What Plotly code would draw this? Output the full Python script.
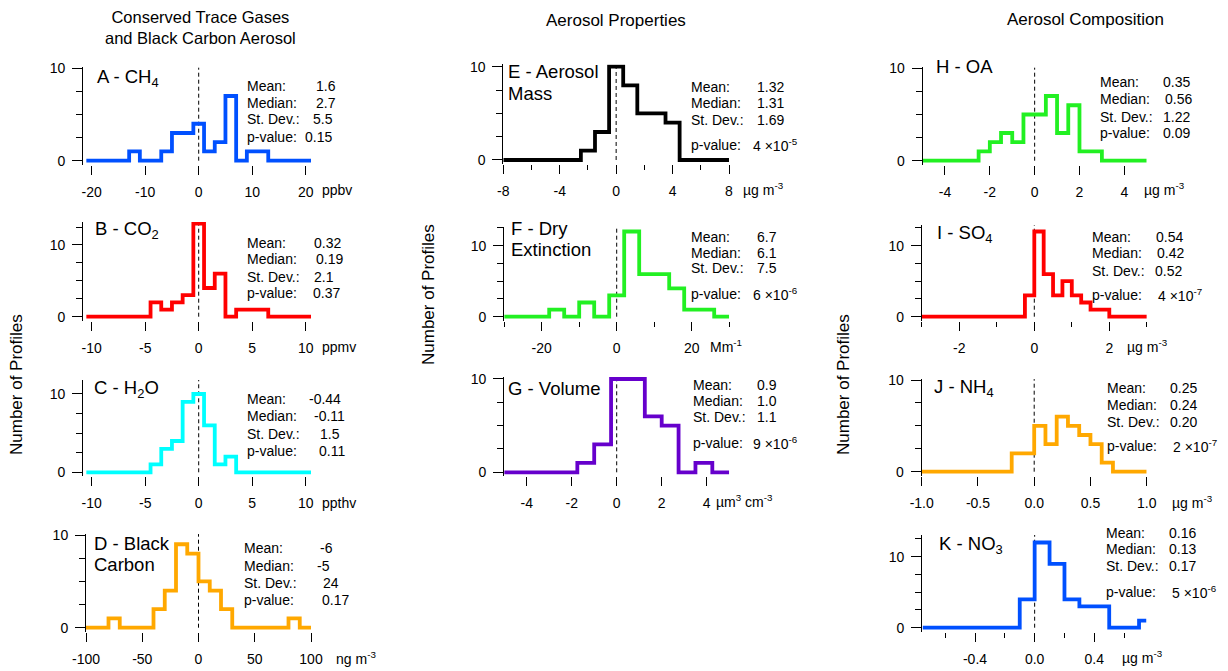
import plotly.graph_objects as go

W, H = 1228, 671
FONT = "Liberation Sans, Arial, sans-serif"

# ---------------- data (bin edges, counts per bin) ----------------
A_edges = [-21, -13, -11, -7, -5, -1, 1, 3, 5, 7, 9, 13, 21]
A_counts = [0, 1, 0, 1, 3, 4, 1, 2, 7, 0, 1, 0]

B_edges = [-10.5, -4.5, -3.5, -2.5, -1.5, -0.5, 0.5, 1.5, 2.5, 3.5, 6.5, 10.5]
B_counts = [0, 2, 1, 2, 3, 13, 4, 6, 0, 1, 0]

C_edges = [-10.5, -4.5, -3.5, -2.5, -1.5, -0.5, 0.5, 1.5, 2.5, 3.5, 10.5]
C_counts = [0, 1, 3, 4, 9, 10, 6, 1, 2, 0]

D_edges = [-100, -80, -70, -40, -30, -20, -10, 0, 10, 20, 30, 80, 90, 100]
D_counts = [0, 1, 0, 2, 4, 9, 8, 5, 4, 2, 0, 1, 0]

E_edges = [-8, -2.5, -1.5, -0.5, 0.5, 1.5, 3.5, 4.5, 8]
E_counts = [0, 1, 3, 10, 8, 5, 4, 0]

F_edges = [-30, -18, -14, -10, -6, -2, 2, 6, 14, 18, 26, 30]
F_counts = [0, 1, 0, 2, 0, 3, 12, 6, 4, 1, 0]

G_edges = [-5, -1.75, -1, -0.25, 1.25, 2, 2.75, 3.5, 4.25, 5]
G_counts = [0, 1, 3, 10, 6, 5, 0, 1, 0]

H_edges = [-5, -2.5, -2, -1.5, -1, -0.5, 0.5, 1, 1.5, 2, 3, 5]
H_counts = [0, 1, 2, 3, 2, 5, 7, 3, 6, 1, 0]

I_edges = [-3, -0.25, 0, 0.25, 0.5, 0.75, 1, 1.25, 1.5, 2, 3]
I_counts = [0, 3, 12, 6, 3, 5, 3, 2, 1, 0]

J_edges = [-1, -0.2, 0, 0.1, 0.2, 0.3, 0.4, 0.5, 0.6, 0.7, 1]
J_counts = [0, 2, 5, 3, 6, 5, 4, 3, 1, 0]

K_edges = [-0.75, -0.1, 0, 0.1, 0.2, 0.3, 0.5, 0.7, 0.75]
K_counts = [0, 4, 12, 9, 4, 3, 0, 1]

# ---------------- tick labels ----------------
A_ticks = [-20, -10, 0, 10, 20]
A_ticktext = ["-20", "-10", "0", "10", "20"]
BC_ticks = [-10, -5, 0, 5, 10]
BC_ticktext = ["-10", "-5", "0", "5", "10"]
D_ticks = [-100, -50, 0, 50, 100]
D_ticktext = ["-100", "-50", "0", "50", "100"]
E_ticks = [-8, -4, 0, 4, 8]
E_ticktext = ["-8", "-4", "0", "4", "8"]
E_minor = [-6, -2, 2, 6]
F_ticks = [-20, 0, 20]
F_ticktext = ["-20", "0", "20"]
F_minor = [-30, -10, 10, 30]
GH_ticks = [-4, -2, 0, 2, 4]
GH_ticktext = ["-4", "-2", "0", "2", "4"]
I_ticks = [-2, 0, 2]
I_ticktext = ["-2", "0", "2"]
I_minor = [-3, -1, 1, 3]
J_ticks = [-1.0, -0.5, 0.0, 0.5, 1.0]
J_ticktext = ["-1.0", "-0.5", "0.0", "0.5", "1.0"]
K_ticks = [-0.4, 0.0, 0.4]
K_ticktext = ["-0.4", "0.0", "0.4"]
K_minor = [-0.6, -0.2, 0.2, 0.6]
Y_ticks = [0, 10]
Y_ticktext = ["0", "10"]

# ---------------- statistics text ----------------
stat_labels = ["Mean:", "Median:", "St. Dev.:", "p-value:"]
A_stats = ["1.6", "2.7", "5.5", "0.15"]
B_stats = ["0.32", "0.19", "2.1", "0.37"]
C_stats = ["-0.44", "-0.11", "1.5", "0.11"]
D_stats = ["-6", "-5", "24", "0.17"]
E_stats = ["1.32", "1.31", "1.69", "4 ×10<sup>-5</sup>"]
F_stats = ["6.7", "6.1", "7.5", "6 ×10<sup>-6</sup>"]
G_stats = ["0.9", "1.0", "1.1", "9 ×10<sup>-6</sup>"]
H_stats = ["0.35", "0.56", "1.22", "0.09"]
I_stats = ["0.54", "0.42", "0.52", "4 ×10<sup>-7</sup>"]
J_stats = ["0.25", "0.24", "0.20", "2 ×10<sup>-7</sup>"]
K_stats = ["0.16", "0.13", "0.17", "5 ×10<sup>-6</sup>"]

BLUE, RED, CYAN, ORANGE = "#0050FF", "#FF0000", "#00FFFF", "#FFA800"
BLACK, GREEN, PURPLE = "#000000", "#22F022", "#6600CC"

panels = [
    dict(e=A_edges, c=A_counts, col=BLUE, xcal=(-20, 91.7, 20, 305.7), xr=(-21.6, 21), ycal=(160.7, 68.3), ytop=10.1,
         tv=A_ticks, tt=A_ticktext, mn=None, title=["A - CH<sub>4</sub>"], tx=96.7, ty=[78.3],
         unit="ppbv", ux=322, uy=190, st=A_stats, lx=246.7, vx=[316, 316, 313.3, 305], sy=[85.5, 102.5, 119.5, 136.5]),
    dict(e=B_edges, c=B_counts, col=RED, xcal=(-10, 91.7, 10, 305.7), xr=(-10.8, 10.5), ycal=(316.7, 245), ytop=13.2,
         tv=BC_ticks, tt=BC_ticktext, mn=None, title=["B - CO<sub>2</sub>"], tx=95, ty=[230],
         unit="ppmv", ux=322, uy=347, st=B_stats, lx=247.3, vx=[314, 316, 314, 313.3], sy=[242.7, 259.3, 276.7, 292.7]),
    dict(e=C_edges, c=C_counts, col=CYAN, xcal=(-10, 91.7, 10, 305.7), xr=(-10.8, 10.5), ycal=(472.3, 394), ytop=11.8,
         tv=BC_ticks, tt=BC_ticktext, mn=None, title=["C - H<sub>2</sub>O"], tx=94.3, ty=[389.3],
         unit="ppthv", ux=322, uy=503, st=C_stats, lx=246.7, vx=[309.3, 314, 320, 319.3], sy=[399.3, 416, 433.5, 450.7]),
    dict(e=D_edges, c=D_counts, col=ORANGE, xcal=(-100, 86, 100, 311), xr=(-100, 100), ycal=(627.7, 535), ytop=10.1,
         tv=D_ticks, tt=D_ticktext, mn=None, title=["D - Black", "Carbon"], tx=94.3, ty=[543.3, 564.3],
         unit="ng m<sup>-3</sup>", ux=336, uy=658, st=D_stats, lx=244, vx=[320, 316.7, 322.7, 321.7], sy=[548.3, 565.7, 583.3, 600]),
    dict(e=E_edges, c=E_counts, col=BLACK, xcal=(-8, 503.3, 8, 729), xr=(-8, 8), ycal=(160, 66.7), ytop=10.25,
         tv=E_ticks, tt=E_ticktext, mn=E_minor, title=["E - Aerosol", "Mass"], tx=508.3, ty=[71.7, 93.3],
         unit="µg m<sup>-3</sup>", ux=743, uy=189, st=E_stats, lx=690.7, vx=[757, 757, 757, 753], sy=[87.3, 103.3, 120, 145]),
    dict(e=F_edges, c=F_counts, col=GREEN, xcal=(-20, 541.7, 20, 691.7), xr=(-30, 30), ycal=(316.7, 245.7), ytop=12.7,
         tv=F_ticks, tt=F_ticktext, mn=F_minor, title=["F - Dry", "Extinction"], tx=510.7, ty=[228.3, 250],
         unit="Mm<sup>-1</sup>", ux=710, uy=346, st=F_stats, lx=690.7, vx=[757, 757, 757, 753], sy=[236.7, 253.3, 268.3, 294]),
    dict(e=G_edges, c=G_counts, col=PURPLE, xcal=(-4, 526.7, 4, 706.7), xr=(-5, 5), ycal=(472.3, 379), ytop=10.25,
         tv=GH_ticks, tt=GH_ticktext, mn=None, title=["G - Volume"], tx=508.3, ty=[388.3],
         unit="µm<sup>3</sup> cm<sup>-3</sup>", ux=716, uy=501, st=G_stats, lx=692.7, vx=[757, 757, 757, 753], sy=[385, 401, 416.7, 443.3]),
    dict(e=H_edges, c=H_counts, col=GREEN, xcal=(-4, 945, 4, 1124.3), xr=(-5, 5), ycal=(160.7, 68.3), ytop=10.1,
         tv=GH_ticks, tt=GH_ticktext, mn=None, title=["H - OA"], tx=936, ty=[66.7],
         unit="µg m<sup>-3</sup>", ux=1144, uy=189, st=H_stats, lx=1100, vx=[1163.3, 1165, 1163.3, 1162.7], sy=[82.3, 99, 116.7, 132.7]),
    dict(e=I_edges, c=I_counts, col=RED, xcal=(-2, 959.3, 2, 1109.3), xr=(-3, 3), ycal=(316.7, 245.7), ytop=12.9,
         tv=I_ticks, tt=I_ticktext, mn=I_minor, title=["I - SO<sub>4</sub>"], tx=936.7, ty=[234],
         unit="µg m<sup>-3</sup>", ux=1126.7, uy=346, st=I_stats, lx=1092.3, vx=[1155.7, 1156.7, 1155, 1157.7], sy=[236.7, 253.3, 270.7, 295]),
    dict(e=J_edges, c=J_counts, col=ORANGE, xcal=(-1, 921.7, 1, 1146.7), xr=(-1, 1), ycal=(471.7, 380), ytop=10.1,
         tv=J_ticks, tt=J_ticktext, mn=None, title=["J - NH<sub>4</sub>"], tx=934, ty=[388.3],
         unit="µg m<sup>-3</sup>", ux=1171.7, uy=502, st=J_stats, lx=1106.7, vx=[1170, 1170, 1170, 1173.3], sy=[388.3, 405, 421.7, 446]),
    dict(e=K_edges, c=K_counts, col=BLUE, xcal=(-0.4, 975, 0.4, 1094.3), xr=(-0.755, 0.75), ycal=(627.7, 556.7), ytop=13.05,
         tv=K_ticks, tt=K_ticktext, mn=K_minor, title=["K - NO<sub>3</sub>"], tx=939, ty=[545],
         unit="µg m<sup>-3</sup>", ux=1121.7, uy=657, st=K_stats, lx=1105.7, vx=[1169.3, 1169.3, 1169.3, 1171.7], sy=[532.7, 549.3, 566, 591.7]),
]


def ann(text, x, y, size=14, xanchor="left", yanchor="middle", angle=0):
    dx = -2 if xanchor == "left" else 0
    return dict(text=text, x=(x + dx) / W, y=1 - y / H, xref="paper", yref="paper", xanchor=xanchor, yanchor=yanchor,
                showarrow=False, textangle=angle, font=dict(family=FONT, size=size, color="black"))


fig = go.Figure()
layout = {}
annotations = []
shapes = []

for i, p in enumerate(panels):
    n = i + 1
    sfx = "" if n == 1 else str(n)
    xa, pxa, xb, pxb = p["xcal"]
    sx = (pxb - pxa) / (xb - xa)
    left = pxa + (p["xr"][0] - xa) * sx
    right = pxa + (p["xr"][1] - xa) * sx
    py0, py10 = p["ycal"]
    sy = (py0 - py10) / 10.0
    ybot = -4.0 / sy
    top_px = py0 - p["ytop"] * sy
    bot_px = py0 - ybot * sy

    fig.add_trace(go.Scatter(
        x=p["e"], y=p["c"] + [p["c"][-1]], mode="lines",
        line=dict(shape="hv", color=p["col"], width=3.8),
        xaxis="x" + sfx, yaxis="y" + sfx, hoverinfo="skip", showlegend=False))

    xax = dict(domain=[left / W, right / W], range=list(p["xr"]), anchor="y" + sfx,
               automargin=False, fixedrange=True,
               showline=False, showgrid=False, zeroline=False,
               tickmode="array", tickvals=p["tv"], ticktext=p["tt"],
               ticks="outside", ticklen=9, tickwidth=1, tickcolor="black",
               ticklabelstandoff=5,
               tickfont=dict(family=FONT, size=14, color="black"))
    if p["mn"]:
        xax["minor"] = dict(tickmode="array", tickvals=p["mn"], ticks="outside", ticklen=5,
                            tickwidth=1, tickcolor="black", showgrid=False)
    yax = dict(domain=[1 - bot_px / H, 1 - top_px / H], range=[ybot, p["ytop"]], anchor="x" + sfx,
               automargin=False, fixedrange=True,
               showline=True, linecolor="black", linewidth=1, showgrid=False, zeroline=False,
               tickmode="array", tickvals=Y_ticks, ticktext=Y_ticktext,
               ticks="outside", ticklen=10, tickwidth=1, tickcolor="black",
               ticklabelstandoff=4,
               tickfont=dict(family=FONT, size=14, color="black"),
               minor=dict(tickmode="linear", tick0=0, dtick=2.5, ticks="outside", ticklen=6,
                          tickwidth=1, tickcolor="black", showgrid=False))
    layout["xaxis" + sfx] = xax
    layout["yaxis" + sfx] = yax

    shapes.append(dict(type="line", xref="x" + sfx, yref="y" + sfx, x0=0, x1=0, y0=0, y1=p["ytop"],
                       line=dict(color="black", width=1, dash="4px,3px"), layer="below"))

    for t, ty in zip(p["title"], p["ty"]):
        annotations.append(ann(t, p["tx"], ty, size=18.5))
    annotations.append(ann(p["unit"], p["ux"], p["uy"], size=14))
    for lab, val, vx, yy in zip(stat_labels, p["st"], p["vx"], p["sy"]):
        annotations.append(ann(lab, p["lx"], yy, size=14))
        annotations.append(ann(val, vx, yy, size=14))

# column titles and y-axis titles
annotations.append(ann("Conserved Trace Gases<br>and Black Carbon Aerosol", 200, 27, size=16.5, xanchor="center"))
annotations.append(ann("Aerosol Properties", 616, 21, size=17, xanchor="center"))
annotations.append(ann("Aerosol Composition", 1085, 20, size=17, xanchor="center"))
annotations.append(ann("Number of Profiles", 16, 385, size=17, xanchor="center", angle=-90))
annotations.append(ann("Number of Profiles", 428, 295, size=17, xanchor="center", angle=-90))
annotations.append(ann("Number of Profiles", 843, 385, size=17, xanchor="center", angle=-90))

fig.update_layout(**layout)
fig.update_layout(width=W, height=H, margin=dict(l=0, r=0, t=0, b=0, pad=0, autoexpand=False),
                  paper_bgcolor="white", plot_bgcolor="white",
                  annotations=annotations, shapes=shapes, showlegend=False, hovermode=False,
                  font=dict(family=FONT, size=14, color="black"))

fig.write_html("out.html", config={"displayModeBar": False, "staticPlot": True},
               post_script="document.body.style.margin='0px';document.body.style.overflow='hidden';")
